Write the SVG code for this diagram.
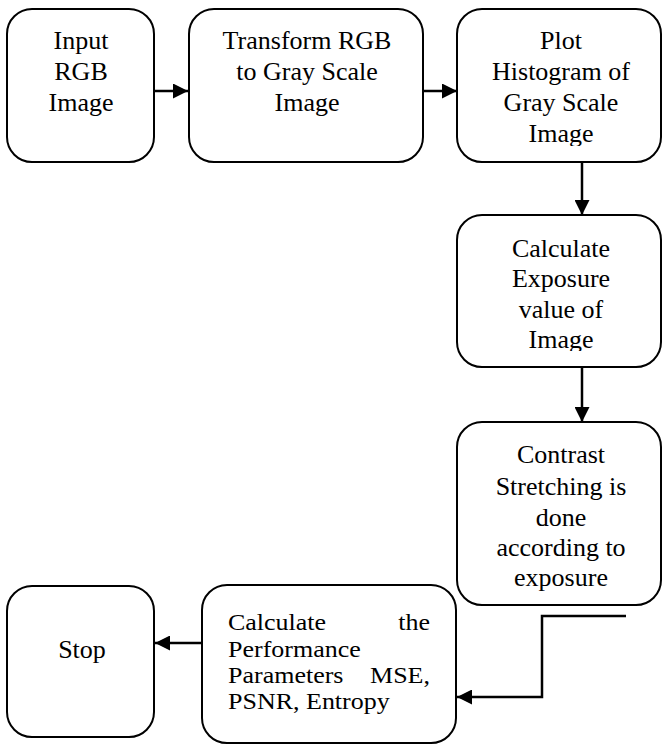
<svg xmlns="http://www.w3.org/2000/svg" width="663" height="744" viewBox="0 0 663 744">
<style>
.box{fill:#fff;stroke:#000;stroke-width:2}
.t{font-family:"Liberation Serif","Tinos","Times New Roman","DejaVu Serif",serif;font-size:26px;fill:#000;text-anchor:middle}
.tl{font-family:"Liberation Serif","Tinos","Times New Roman","DejaVu Serif",serif;font-size:26px;fill:#000}
.c{fill:none;stroke:#000;stroke-width:2.5}
</style>
<defs>
<marker id="ah" markerWidth="6" markerHeight="6" refX="6" refY="3" orient="auto" markerUnits="strokeWidth">
<path d="M0,0 L6,3 L0,6 Z" fill="#000"/>
</marker>
<clipPath id="clip3"><rect x="450" y="0" width="213" height="146"/></clipPath>
<clipPath id="clip4"><rect x="450" y="200" width="213" height="151"/></clipPath>
<clipPath id="clip5"><rect x="450" y="420" width="213" height="172"/></clipPath>
</defs>
<rect width="663" height="744" fill="#fff"/>
<g id="connectors">
<line class="c" x1="154" y1="91" x2="188" y2="91" marker-end="url(#ah)"/>
<line class="c" x1="423" y1="91" x2="457" y2="91" marker-end="url(#ah)"/>
<line class="c" x1="582" y1="162" x2="582" y2="215" marker-end="url(#ah)"/>
<line class="c" x1="582" y1="367" x2="582" y2="422" marker-end="url(#ah)"/>
<polyline class="c" points="626,616 542,616 542,697 457,697" marker-end="url(#ah)"/>
<line class="c" x1="202" y1="643" x2="155" y2="643" marker-end="url(#ah)"/>
</g>
<g id="n1">
<rect class="box" x="7" y="9" width="147" height="153" rx="25"/>
<text class="t" x="81" y="49">Input</text>
<text class="t" x="81" y="80">RGB</text>
<text class="t" x="81" y="111">Image</text>
</g>
<g id="n2">
<rect class="box" x="189" y="9" width="234" height="153" rx="25"/>
<text class="t" x="307" y="49">Transform RGB</text>
<text class="t" x="307" y="80">to Gray Scale</text>
<text class="t" x="307" y="111">Image</text>
</g>
<g id="n3">
<rect class="box" x="457" y="9" width="204" height="153" rx="25"/>
<g clip-path="url(#clip3)">
<text class="t" x="561" y="49">Plot</text>
<text class="t" x="561" y="80">Histogram of</text>
<text class="t" x="561" y="111">Gray Scale</text>
<text class="t" x="561" y="142">Image</text>
</g>
</g>
<g id="n4">
<rect class="box" x="457" y="215" width="204" height="152" rx="25"/>
<g clip-path="url(#clip4)">
<text class="t" x="561" y="257">Calculate</text>
<text class="t" x="561" y="287">Exposure</text>
<text class="t" x="561" y="318">value of</text>
<text class="t" x="561" y="348">Image</text>
</g>
</g>
<g id="n5">
<rect class="box" x="457" y="422" width="204" height="183" rx="25"/>
<g clip-path="url(#clip5)">
<text class="t" x="561" y="463">Contrast</text>
<text class="t" x="561" y="495">Stretching is</text>
<text class="t" x="561" y="526">done</text>
<text class="t" x="561" y="556">according to</text>
<text class="t" x="561" y="586">exposure</text>
</g>
</g>
<g id="n6">
<rect class="box" x="202" y="585" width="254" height="158" rx="25"/>
<g transform="translate(0,630) scale(1,0.87)">
<text class="tl" x="228" y="0">Calculate</text>
<text class="tl" x="430" y="0" text-anchor="end">the</text>
<text class="tl" x="228" y="31">Performance</text>
<text class="tl" x="228" y="61">Parameters</text>
<text class="tl" x="430" y="61" text-anchor="end">MSE,</text>
<text class="tl" x="228" y="91">PSNR, Entropy</text>
</g>
</g>
<g id="n7">
<rect class="box" x="7" y="586" width="147" height="151" rx="25"/>
<text class="t" x="82" y="658">Stop</text>
</g>
</svg>
